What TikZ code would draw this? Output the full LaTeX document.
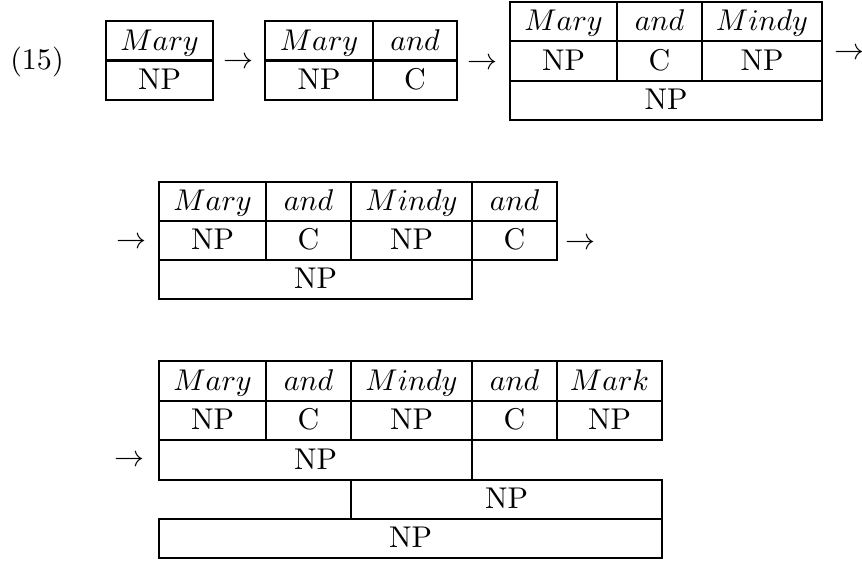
\documentclass[tikz,border=0pt]{standalone}
\begin{document}
\begin{tikzpicture}[x=0.3333pt,y=-0.3333pt,
  rule/.style={line width=0.85pt, line cap=rect, line join=miter},
  cell/.style={anchor=base, inner sep=0pt},
  arr/.style={anchor=base, inner sep=0pt}]
\useasboundingbox (0,0) rectangle (862,563);

% example number
\node[cell] (num) at (37,69.5) {(15)};

% stage 1
\draw[rule] (106,21) rectangle (213,100);
\draw[rule] (106,60.5) -- (213,60.5);
\node[cell] (a1) at (159.5,50) {$Mary$};
\node[cell] (a2) at (159.5,89) {NP};
\node[arr] (t1) at (238.5,68.5) {$\to$};

% stage 2
\draw[rule] (265,21) rectangle (457,100);
\draw[rule] (265,60.5) -- (457,60.5);
\draw[rule] (373,21) -- (373,100);
\node[cell] (b1) at (319,50) {$Mary$};
\node[cell] (b2) at (415,50) {$and$};
\node[cell] (b3) at (319,89) {NP};
\node[cell] (b4) at (415,89) {C};
\node[arr] (t2) at (482.5,69) {$\to$};

% stage 3
\draw[rule] (510,2) rectangle (822,120);
\draw[rule] (510,41) -- (822,41);
\draw[rule] (510,81) -- (822,81);
\draw[rule] (617,2) -- (617,81);
\draw[rule] (702,2) -- (702,81);
\node[cell] (c1) at (563.5,30) {$Mary$};
\node[cell] (c2) at (659.5,30) {$and$};
\node[cell] (c3) at (762,30) {$Mindy$};
\node[cell] (c4) at (563.5,70) {NP};
\node[cell] (c5) at (659.5,70) {C};
\node[cell] (c6) at (762,70) {NP};
\node[cell] (c7) at (666,109) {NP};
\node[arr] (t3) at (849,59) {$\to$};

% stage 4
\node[arr] (t4) at (131.5,248.5) {$\to$};
\draw[rule] (159,182) -- (557,182) -- (557,260) -- (472,260) -- (472,299)
  -- (159,299) -- cycle;
\draw[rule] (159,221) -- (557,221);
\draw[rule] (159,260) -- (472,260);
\draw[rule] (266,182) -- (266,260);
\draw[rule] (351,182) -- (351,260);
\draw[rule] (472,182) -- (472,260);
\node[cell] (d1) at (212.5,210) {$Mary$};
\node[cell] (d2) at (308.5,210) {$and$};
\node[cell] (d3) at (411.5,210) {$Mindy$};
\node[cell] (d4) at (514.5,210) {$and$};
\node[cell] (d5) at (212.5,249) {NP};
\node[cell] (d6) at (308.5,249) {C};
\node[cell] (d7) at (411.5,249) {NP};
\node[cell] (d8) at (514.5,249) {C};
\node[cell] (d9) at (315.5,288) {NP};
\node[arr] (t5) at (580,249.5) {$\to$};

% stage 5
\node[arr] (t6) at (130,466.5) {$\to$};
\draw[rule] (159,361) rectangle (662,440);
\draw[rule] (159,401) -- (662,401);
\foreach \xx in {266,351,472,557} \draw[rule] (\xx,361) -- (\xx,440);
\draw[rule] (159,440) -- (159,480);
\draw[rule] (472,440) -- (472,480);
\draw[rule] (159,480) -- (662,480);
\draw[rule] (351,480) -- (351,519);
\draw[rule] (662,480) -- (662,519);
\draw[rule] (159,519) rectangle (662,558);
\node[cell] (e1) at (212.5,390) {$Mary$};
\node[cell] (e2) at (308.5,390) {$and$};
\node[cell] (e3) at (411.5,390) {$Mindy$};
\node[cell] (e4) at (514.5,390) {$and$};
\node[cell] (e5) at (609.5,390) {$Mark$};
\node[cell] (e6) at (212.5,429) {NP};
\node[cell] (e7) at (308.5,429) {C};
\node[cell] (e8) at (411.5,429) {NP};
\node[cell] (e9) at (514.5,429) {C};
\node[cell] (e10) at (609.5,429) {NP};
\node[cell] (e11) at (315.5,469) {NP};
\node[cell] (e12) at (506.5,508) {NP};
\node[cell] (e13) at (410.5,547) {NP};
\end{tikzpicture}
\end{document}
